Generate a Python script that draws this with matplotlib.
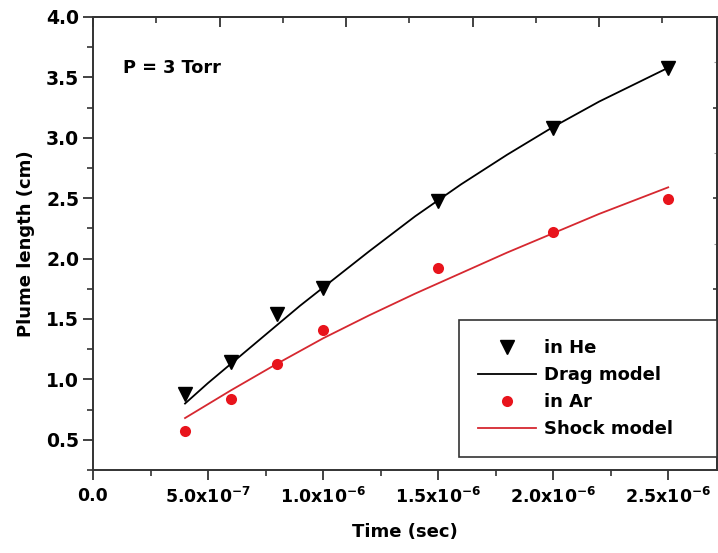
import numpy as np
import matplotlib
matplotlib.use("Agg")
import matplotlib.pyplot as plt
from matplotlib.ticker import MultipleLocator, FuncFormatter

plt.rcParams['font.family'] = ['DejaVu Sans']
plt.rcParams['font.weight'] = 'bold'
plt.rcParams['mathtext.default'] = 'bf'

# measured points (time in s, plume length in cm)
t_obs = [4e-7, 6e-7, 8e-7, 1e-6, 1.5e-6, 2e-6, 2.5e-6]
he_obs = [0.88, 1.14, 1.54, 1.76, 2.48, 3.08, 3.58]
ar_obs = [0.57, 0.835, 1.13, 1.41, 1.92, 2.22, 2.49]

# model curves
t_model = [4e-7, 5e-7, 6e-7, 7e-7, 8e-7, 9e-7, 1e-6, 1.2e-6, 1.4e-6,
           1.6e-6, 1.8e-6, 2e-6, 2.2e-6, 2.5e-6]
drag_model = [0.80, 0.97, 1.13, 1.29, 1.45, 1.61, 1.76, 2.06, 2.35,
              2.615, 2.86, 3.09, 3.30, 3.58]
shock_model = [0.68, 0.795, 0.91, 1.02, 1.13, 1.235, 1.34, 1.53, 1.71,
               1.88, 2.05, 2.21, 2.37, 2.59]

fig = plt.figure(figsize=(7.18, 5.53), dpi=100)
ax = fig.add_axes([93 / 718, 83 / 553, 623.5 / 718, 453 / 553])

ax.plot(t_obs, he_obs, linestyle='none', marker='v', color='black',
        markersize=10, label='in He', zorder=3)
ax.plot(t_model, drag_model, color='black', linewidth=1.3, label='Drag model')
ax.plot(t_obs, ar_obs, linestyle='none', marker='o', color='#e8141c',
        markersize=8, markeredgewidth=0, label='in Ar', zorder=3)
ax.plot(t_model, shock_model, color='#d62830', linewidth=1.3, label='Shock model')

ax.set_xlim(0, 2.71e-6)
ax.set_ylim(0.25, 4.0)

ax.xaxis.set_major_locator(MultipleLocator(5e-7))
ax.xaxis.set_minor_locator(MultipleLocator(2.5e-7))
ax.yaxis.set_major_locator(MultipleLocator(0.5))
ax.yaxis.set_minor_locator(MultipleLocator(0.25))


def sci_fmt(v, pos):
    if abs(v) < 1e-12:
        return '0.0'
    e = int(np.floor(np.log10(abs(v))))
    m = v / 10 ** e
    return '%.1fx10$^{%d}$' % (m, e)


ax.xaxis.set_major_formatter(FuncFormatter(sci_fmt))
ax.yaxis.set_major_formatter(FuncFormatter(lambda v, p: '%.1f' % v))

spine_col = '#333333'
for s in ax.spines.values():
    s.set_linewidth(1.4)
    s.set_color(spine_col)

ax.tick_params(axis='both', which='major', direction='out', length=7,
               width=1.3, color=spine_col)
ax.tick_params(axis='both', which='minor', direction='out', length=4,
               width=1.2, color=spine_col)
ax.tick_params(axis='x', which='major', pad=5, labelsize=12.5)
ax.tick_params(axis='y', which='major', pad=3, labelsize=13.5)

# top and right axes have their own tick spacing in the original
top = ax.secondary_xaxis('top')
top.set_xticks([0, 5.5e-7, 1.1e-6, 1.65e-6, 2.2e-6])
top.set_xticks([2.75e-7, 8.25e-7, 1.375e-6, 1.925e-6, 2.475e-6], minor=True)
top.tick_params(which='major', direction='in', length=7, width=1.3,
                color=spine_col, labeltop=False)
top.tick_params(which='minor', direction='in', length=4, width=1.2,
                color=spine_col)
top.spines['top'].set_linewidth(1.4)
top.spines['top'].set_color(spine_col)

right = ax.secondary_yaxis('right')
right.set_yticks([1.0, 1.75, 2.5, 3.25])
right.set_yticks([0.625, 1.375, 2.125, 2.875, 3.625], minor=True)
right.tick_params(which='major', direction='in', length=3, width=1.2,
                  color=spine_col, labelright=False)
right.tick_params(which='minor', direction='in', length=2, width=0.8,
                  color='#999999')
right.spines['right'].set_linewidth(1.4)
right.spines['right'].set_color(spine_col)

ax.set_xlabel('Time (sec)', fontsize=13, fontweight='bold', labelpad=12)
ax.set_ylabel('Plume length (cm)', fontsize=13, fontweight='bold', labelpad=8)

ax.text(1.3e-7, 3.58, 'P = 3 Torr', fontsize=12.8, fontweight='bold',
        ha='left', va='center')

leg = ax.legend(loc='lower left', bbox_to_anchor=(0.587, 0.029, 0.413, 0.307),
                mode='expand', borderaxespad=0, fontsize=13, frameon=True,
                fancybox=False, edgecolor=spine_col, framealpha=1,
                handlelength=3.2, handletextpad=0.45, labelspacing=0.5,
                borderpad=1.05)
leg.get_frame().set_linewidth(1.2)

fig.savefig('out.png', dpi=100)
